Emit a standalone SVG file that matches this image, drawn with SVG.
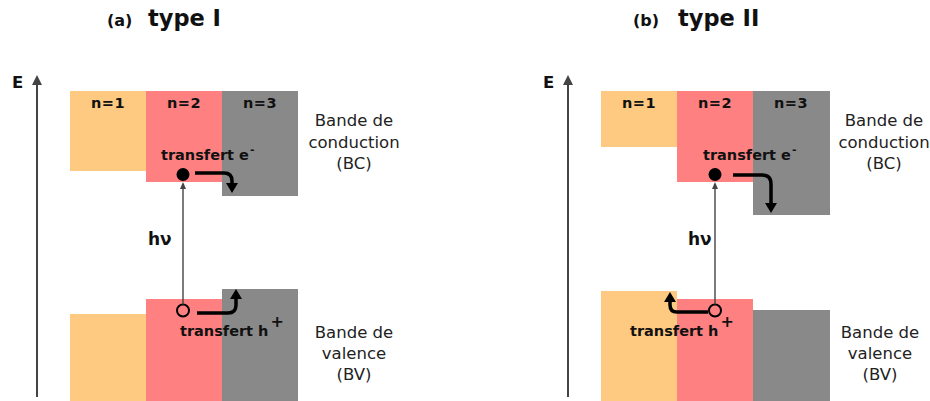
<svg xmlns="http://www.w3.org/2000/svg" width="930" height="401" viewBox="0 0 930 401">
<style>
.or{fill:#FEC980}
.pk{fill:#FF8080}
.gy{fill:#898989}
.t{font-family:"DejaVu Sans",Verdana,sans-serif;fill:#111}
.b{font-weight:bold}
.title{font-size:22.5px;font-weight:bold}
.sub{font-size:16px;font-weight:bold}
.n{font-size:14.5px;font-weight:bold;text-anchor:middle;letter-spacing:0.4px}
.band{font-size:16.5px;text-anchor:middle;fill:#222}
.tr{font-size:14.5px;font-weight:bold}
.hv{font-size:17px;font-weight:bold}
.ax{stroke:#444;stroke-width:2;fill:none}
.ph{stroke:#444;stroke-width:1.4;fill:none}
.mv{stroke:#000;stroke-width:3.5;fill:none}
</style>
<defs>
<marker id="axh" markerUnits="userSpaceOnUse" viewBox="0 0 10 12" markerWidth="10" markerHeight="12" refX="6" refY="6" orient="auto">
<path d="M0,1 L10,6 L0,11 z" fill="#444"/>
</marker>
<marker id="phh" markerUnits="userSpaceOnUse" viewBox="0 0 7 6" markerWidth="7" markerHeight="6" refX="5" refY="3" orient="auto">
<path d="M0,0 L7,3 L0,6 z" fill="#444"/>
</marker>
<marker id="mvh" markerUnits="userSpaceOnUse" viewBox="0 0 10 13" markerWidth="10" markerHeight="13" refX="5" refY="6.5" orient="auto">
<path d="M0,0.5 L10,6.5 L0,12.5 z" fill="#000"/>
</marker>
</defs>

<!-- Panel (a) -->
<g id="panel-a">
<text class="t sub" x="107" y="26">(a)</text>
<text class="t title" x="148" y="26">type I</text>
<text class="t b" x="12" y="88" font-size="16.5">E</text>
<g id="a-n1-bc"><rect class="or" x="70" y="91" width="76" height="80"/><text class="t n" x="108" y="108">n=1</text></g>
<g id="a-n2-bc"><rect class="pk" x="146" y="91" width="76" height="91"/><text class="t n" x="184" y="108">n=2</text></g>
<g id="a-n3-bc"><rect class="gy" x="222" y="91" width="76" height="105"/><text class="t n" x="260" y="108">n=3</text></g>
<g id="a-n1-bv"><rect class="or" x="70" y="314" width="76" height="87"/></g>
<g id="a-n2-bv"><rect class="pk" x="146" y="299" width="76" height="102"/></g>
<g id="a-n3-bv"><rect class="gy" x="222" y="289" width="76" height="112"/></g>
<g id="a-bc-label"><text class="t band" x="354" y="126">Bande de</text><text class="t band" x="354" y="147.5">conduction</text><text class="t band" x="354" y="168.5">(BC)</text></g>
<g id="a-bv-label"><text class="t band" x="354" y="337.5">Bande de</text><text class="t band" x="354" y="359">valence</text><text class="t band" x="354" y="380">(BV)</text></g>
<g id="a-electron"><circle cx="183" cy="174.5" r="6.5" fill="#000"/><text class="t tr" x="161" y="160">transfert e<tspan font-size="11" dx="1" dy="-7">-</tspan></text></g>
<g id="a-hole"><circle cx="183" cy="310.5" r="6" fill="none" stroke="#000" stroke-width="2"/><text class="t tr" x="180" y="336" font-size="15">transfert h<tspan font-size="16" dx="2" dy="-9">+</tspan></text></g>
<text class="t hv" x="148" y="245">hν</text>
</g>

<!-- Panel (b) -->
<g id="panel-b">
<text class="t sub" x="633" y="26">(b)</text>
<text class="t title" x="678" y="26">type II</text>
<text class="t b" x="543" y="88" font-size="16.5">E</text>
<g id="b-n1-bc"><rect class="or" x="601" y="91" width="76" height="56"/><text class="t n" x="639" y="108">n=1</text></g>
<g id="b-n2-bc"><rect class="pk" x="677" y="91" width="76" height="91"/><text class="t n" x="715" y="108">n=2</text></g>
<g id="b-n3-bc"><rect class="gy" x="753" y="91" width="77" height="124"/><text class="t n" x="791" y="108">n=3</text></g>
<g id="b-n1-bv"><rect class="or" x="601" y="291" width="76" height="110"/></g>
<g id="b-n2-bv"><rect class="pk" x="677" y="299" width="76" height="102"/></g>
<g id="b-n3-bv"><rect class="gy" x="753" y="310" width="77" height="91"/></g>
<g id="b-bc-label"><text class="t band" x="884" y="126">Bande de</text><text class="t band" x="884" y="147.5">conduction</text><text class="t band" x="884" y="168.5">(BC)</text></g>
<g id="b-bv-label"><text class="t band" x="880" y="337.5">Bande de</text><text class="t band" x="880" y="359">valence</text><text class="t band" x="880" y="380">(BV)</text></g>
<g id="b-electron"><circle cx="715" cy="174.5" r="6.5" fill="#000"/><text class="t tr" x="703" y="160">transfert e<tspan font-size="11" dx="1" dy="-7">-</tspan></text></g>
<g id="b-hole"><circle cx="715" cy="310.5" r="6" fill="none" stroke="#000" stroke-width="2"/><text class="t tr" x="630" y="336" font-size="15">transfert h<tspan font-size="16" dx="2" dy="-9">+</tspan></text></g>
<text class="t hv" x="688" y="245">hν</text>
</g>

<g id="connectors">
<line class="ax" x1="37" y1="397" x2="37" y2="79" marker-end="url(#axh)"/>
<line class="ax" x1="568" y1="397" x2="568" y2="79" marker-end="url(#axh)"/>
<line class="ph" x1="183" y1="304.5" x2="183" y2="184" marker-end="url(#phh)"/>
<line class="ph" x1="715" y1="304.5" x2="715" y2="184" marker-end="url(#phh)"/>
<path class="mv" d="M195,173 H224 Q232,173 232,181 V188" marker-end="url(#mvh)"/>
<path class="mv" d="M197,313 H228 Q236,313 236,305 V294" marker-end="url(#mvh)"/>
<path class="mv" d="M733,175 H762 Q771,175 771,184 V208" marker-end="url(#mvh)"/>
<path class="mv" d="M708,312 H677 Q670,312 670,305 V297" marker-end="url(#mvh)"/>
</g>
</svg>
